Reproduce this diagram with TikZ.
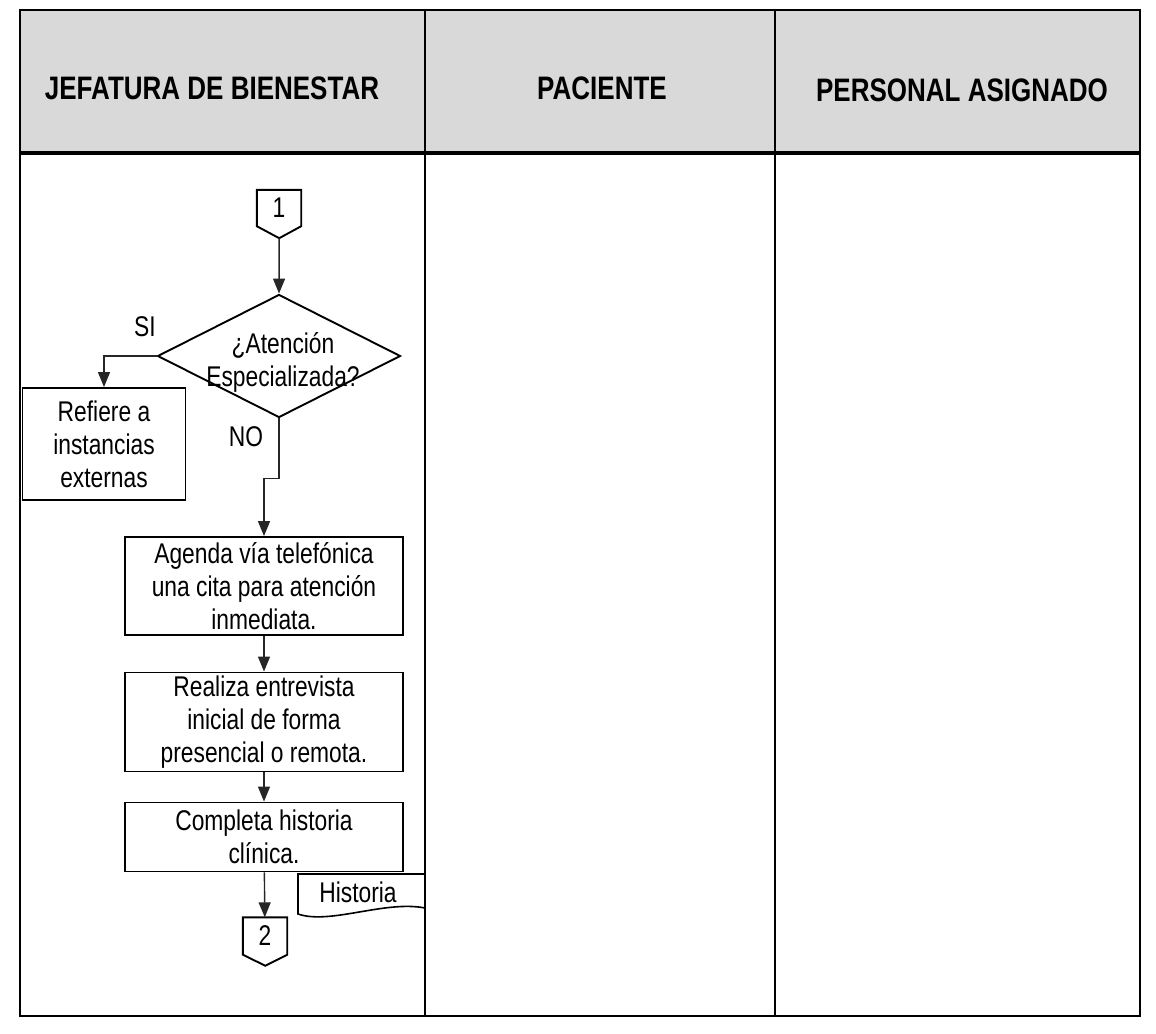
\documentclass[tikz,border=0pt]{standalone}
\usepackage{fontspec}
\setmainfont{Liberation Sans}[FakeStretch=0.8]
\usetikzlibrary{arrows.meta,shapes.geometric,calc}

\begin{document}
\begin{tikzpicture}[x=1pt, y=-1pt, >={Triangle[length=15pt,width=12pt]},
    txt/.style={font=\fontsize{28.5}{33}\selectfont, align=center, inner sep=0pt},
    proc/.style={txt, draw, line width=1.9pt, minimum width=278pt},
    head/.style={font=\fontsize{32.5}{38}\selectfont\bfseries, inner sep=0pt},
    flow/.style={->, line width=1.4pt, draw=black!85},
    offpage/.style={minimum width=44pt, minimum height=36pt, inner sep=0pt, font=\fontsize{28.5}{33}\selectfont}]
  \useasboundingbox (0,0) rectangle (1156,1033);
  % lanes
  \fill[black!15] (20,10) rectangle (1140,153);
  \draw[line width=2.5pt] (20,10) rectangle (1140,1016);
  \draw[line width=3.4pt] (20,153) -- (1140,153);
  \draw[line width=1.9pt] (425,10) -- (425,1016);
  \draw[line width=1.9pt] (775,10) -- (775,1016);
  \node[head] (jefe) at (212,88) {JEFATURA DE BIENESTAR};
  \node[head] (pac) at (602,88) {PACIENTE};
  \node[head] (pers) at (962,90) {PERSONAL ASIGNADO};

  % shapes
  \node[offpage] (c1) at (279,208) {1};
  \draw[line width=1.9pt] (c1.north west) -- (c1.north east) -- (c1.south east)
    -- ++(-22,12) coordinate (c1tip) -- (c1.south west) -- cycle;
  \node[diamond, draw, line width=1.9pt, minimum width=243pt, minimum height=123pt, inner sep=0pt] (dec) at (279,356) {};
  \node[txt] (dectxt) at (283,362) {¿Atención\\Especializada?};
  \node[txt] (si) at (145,327) {SI};
  \node[txt] (no) at (246,437) {NO};
  \node[proc, minimum width=163pt, minimum height=112pt] (ref) at (104,444) {Refiere a\\instancias\\externas};
  \node[proc, minimum height=98pt] (agenda) at (264,586) {Agenda vía telefónica\\una cita para atención\\inmediata.};
  \node[proc, minimum height=99pt] (entrev) at (264,722) {Realiza entrevista\\inicial de forma\\presencial o remota.};
  \node[proc, minimum height=69pt] (hist) at (264,837) {Completa historia\\clínica.};
  \draw[line width=1.6pt] (298,874) -- (425,874) -- (425,908)
    .. controls (385,900) and (330,925) .. (298,914) -- cycle;
  \node[txt] (docu) at (358,892) {Historia};
  \node[offpage, minimum height=37pt] (c2) at (265,936) {2};
  \draw[line width=1.9pt] (c2.north west) -- (c2.north east) -- (c2.south east)
    -- ++(-22,11) -- (c2.south west) -- cycle;

  % arrows
  \draw[flow] (c1tip) -- (dec.north);
  \draw[flow] (dec.west) -| (ref.north);
  \draw[flow] (dec.south) -- ++(0,60) -| (agenda.north);
  \draw[flow] (agenda) -- (entrev);
  \draw[flow] (entrev) -- (hist);
  \draw[flow] (hist) -- (c2);
\end{tikzpicture}
\end{document}
